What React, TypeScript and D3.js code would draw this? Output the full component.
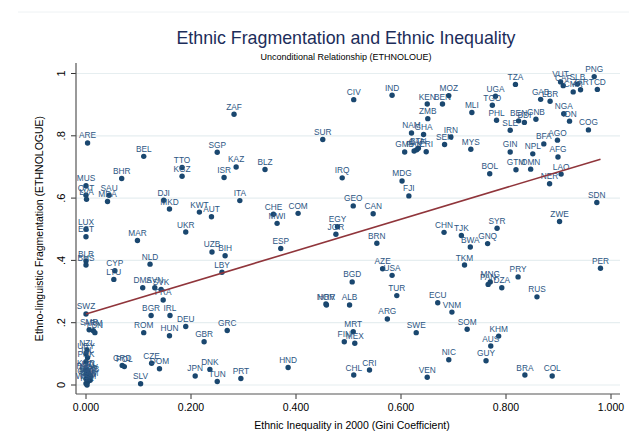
import React from "react";
import * as d3 from "d3";

const codes = [
  "ZAF","ARE","BEL","SGP","KAZ","TTO","KGZ","ISR","BHR","MUS","QAT","LVA","SAU","MDA","DJI","MKD","KWT","AUT","ITA","BLZ",
  "LUX","EST","UKR","MAR","UZB","BIH","LBY","BLR","BHS","NLD","CYP","LTU","DMA","SVN","SVK","FRA","SWZ","BGR","IRL","DEU",
  "GRC","ROM","HUN","GBR","SMR","ARM","LBN","NZL","URY","ISL","PRK","KOR","HTI","RWA","MDV","LSO","MLT","BRB","CUB","LCA",
  "JAM","TON","WSM","KIR","GRD","POL","CZE","DOM","SLV","JPN","DNK","TUN","PRT",
  "CIV","IND","KEN","BEN","ZMB","SUR","NAM","GHA","GMB","PAK","CAF","BTN","ERI","IRQ","MDG","FJI","GEO","CAN","CHE","MWI","COM",
  "EGY","JOR","MOZ","TZA","UGA","TGO","MLI","PHL","SLE","BEN","BDI","GNB","GAB","LBR","NGA","IDN","COG","AGO","BFA","NPL",
  "AFG","GIN","GTM","OMN","LAO","NER","SDN","ZWE","SYR","BOL","MYS","SEN","IRN","PNG","TCD","VUT","CAF","SLB","CMR","ZAR",
  "ESP","BRN","CHN","AZE","USA","BGD","TUR","NOR","HRV","ALB","ARG","ECU","MRT","FIN","MEX","SWE","HND","CHL","CRI","VEN","NIC",
  "TJK","BWA","GNQ","TKM","PER","MNG","PAN","DZA","PRY","RUS","VNM","SOM","KHM","AUS","GUY","BRA","COL"
];

// Ethnic inequality (Gini) — x
const gini = [
  0.282,0.003,0.110,0.250,0.286,0.183,0.183,0.263,0.068,0.000,0.000,0.001,0.044,0.041,0.148,0.159,0.216,0.239,0.293,0.341,
  0.000,0.000,0.190,0.098,0.240,0.265,0.259,0.000,0.000,0.122,0.055,0.053,0.108,0.131,0.143,0.147,0.000,0.124,0.160,0.190,
  0.269,0.110,0.159,0.225,0.006,0.014,0.017,0.002,0.000,0.003,0.000,0.000,0.004,0.000,0.005,0.006,0.002,0.009,0.000,0.004,
  0.008,0.003,0.000,0.002,0.069,0.073,0.125,0.140,0.104,0.208,0.236,0.250,0.295,
  0.510,0.583,0.650,0.679,0.651,0.451,0.620,0.643,0.607,0.625,0.630,0.633,0.648,0.488,0.602,0.615,0.509,0.547,0.357,0.364,0.404,
  0.479,0.476,0.691,0.818,0.780,0.774,0.735,0.782,0.808,0.824,0.835,0.857,0.866,0.884,0.910,0.921,0.957,0.898,0.872,0.851,
  0.899,0.808,0.819,0.847,0.905,0.883,0.973,0.902,0.783,0.769,0.733,0.683,0.695,0.968,0.974,0.904,0.909,0.936,0.928,0.942,
  0.371,0.554,0.682,0.565,0.583,0.507,0.592,0.457,0.458,0.502,0.574,0.670,0.509,0.492,0.512,0.629,0.385,0.510,0.540,0.650,0.691,
  0.715,0.732,0.765,0.721,0.980,0.770,0.766,0.792,0.823,0.859,0.697,0.726,0.786,0.771,0.762,0.836,0.888
];

// Ethno-linguistic fragmentation — y
const frag = [
  0.869,0.777,0.734,0.747,0.700,0.698,0.670,0.666,0.663,0.640,0.609,0.596,0.609,0.589,0.593,0.565,0.555,0.540,0.592,0.692,
  0.500,0.476,0.491,0.464,0.427,0.415,0.362,0.398,0.385,0.388,0.367,0.339,0.312,0.312,0.307,0.273,0.228,0.223,0.223,0.188,
  0.175,0.168,0.158,0.139,0.177,0.174,0.168,0.112,0.100,0.088,0.075,0.048,0.042,0.036,0.033,0.030,0.025,0.028,0.020,0.018,
  0.015,0.010,0.005,0.000,0.063,0.059,0.070,0.052,0.004,0.029,0.050,0.011,0.021,
  0.916,0.930,0.902,0.902,0.855,0.788,0.809,0.804,0.748,0.751,0.755,0.760,0.749,0.665,0.655,0.607,0.575,0.550,0.548,0.519,0.551,
  0.508,0.484,0.929,0.965,0.927,0.898,0.875,0.850,0.818,0.848,0.843,0.853,0.917,0.911,0.871,0.847,0.819,0.786,0.774,0.742,
  0.732,0.748,0.691,0.693,0.677,0.646,0.586,0.525,0.503,0.678,0.757,0.772,0.796,0.990,0.949,0.973,0.961,0.966,0.941,0.948,
  0.438,0.455,0.490,0.373,0.352,0.331,0.287,0.260,0.257,0.257,0.212,0.264,0.171,0.139,0.134,0.168,0.056,0.032,0.048,0.025,0.081,
  0.480,0.443,0.454,0.385,0.375,0.331,0.323,0.312,0.347,0.283,0.234,0.179,0.157,0.125,0.078,0.032,0.029
];

// Fitted line (OLS)
const fitIntercept = 0.228;
const fitSlope = 0.507;

const xTicks = [0, 0.2, 0.4, 0.6, 0.8, 1.0];
const yTicks = [0, 0.2, 0.4, 0.6, 0.8, 1.0];
const yTickLabels = ["0", ".2", ".4", ".6", ".8", "1"];

const title = "Ethnic Fragmentation and Ethnic Inequality";
const subtitle = "Unconditional Relationship (ETHNOLOUE)";
const xTitle = "Ethnic Inequality in 2000 (Gini Coefficient)";
const yTitle = "Ethno-linguistic Fragmentation (ETHNOLOGUE)";

const FONT = "'Liberation Sans', Arial, Helvetica, sans-serif";
const NAVY = "#1a476f";

export default function App() {
  const W = 629, H = 444;
  const plotLeft = 76, plotRight = 620, plotTop = 63, plotBottom = 394;
  const x = d3.scaleLinear().domain([0, 1]).range([86, 611]);
  const y = d3.scaleLinear().domain([0, 1]).range([385, 73.5]);

  const points = codes.map((c, i) => ({ c, x: gini[i], y: frag[i] }));
  const [xmin, xmax] = d3.extent(gini) as [number, number];
  const fitData: [number, number][] = [
    [xmin, fitIntercept + fitSlope * xmin],
    [xmax, fitIntercept + fitSlope * xmax],
  ];
  const line = d3.line<[number, number]>().x(d => x(d[0])).y(d => y(d[1]));

  return (
    <svg width={W} height={H} style={{ position: "absolute", left: 0, top: 0, background: "#fff" }}
      fontFamily={FONT}>
      <line x1={18} x2={W} y1={12} y2={12} stroke="#eef2f4" strokeWidth={1} />
      <text x={346} y={44} textAnchor="middle" fontSize={17.8} fill="#1c2d5a">{title}</text>
      <text x={346} y={60} textAnchor="middle" fontSize={9} fill="#000">{subtitle}</text>

      {yTicks.map((t, i) => (
        <g key={"yt" + i}>
          <line x1={plotLeft} x2={plotRight} y1={y(t)} y2={y(t)} stroke="#e6eef0" strokeWidth={1.2} />
          <line x1={plotLeft - 5} x2={plotLeft} y1={y(t)} y2={y(t)} stroke="#333" strokeWidth={1} />
          <text transform={`translate(${plotLeft - 11},${y(t)}) rotate(-90)`} textAnchor="middle"
            fontSize={11} fill="#000">{yTickLabels[i]}</text>
        </g>
      ))}
      {xTicks.map((t, i) => (
        <g key={"xt" + i}>
          <line x1={x(t)} x2={x(t)} y1={plotBottom} y2={plotBottom + 5} stroke="#333" strokeWidth={1} />
          <text x={x(t)} y={plotBottom + 17} textAnchor="middle" fontSize={10.5} fill="#000">
            {d3.format(".3f")(t)}
          </text>
        </g>
      ))}
      <line x1={plotLeft} x2={plotLeft} y1={plotTop} y2={plotBottom} stroke="#555" strokeWidth={1.2} />
      <line x1={plotLeft} x2={plotRight} y1={plotBottom} y2={plotBottom} stroke="#555" strokeWidth={1.2} />
      <text x={(plotLeft + plotRight) / 2 + 4} y={429} textAnchor="middle" fontSize={10.5} fill="#000">{xTitle}</text>
      <text transform={`translate(43,${(plotTop + plotBottom) / 2}) rotate(-90)`} textAnchor="middle"
        fontSize={10.5} fill="#000">{yTitle}</text>

      {points.map((p, i) => (
        <g key={"p" + i}>
          <circle cx={x(p.x)} cy={y(p.y)} r={2.7} fill={NAVY} />
          <text x={x(p.x)} y={y(p.y) - 4.5} textAnchor="middle" fontSize={8.3} fill="#2c5683">{p.c}</text>
        </g>
      ))}
      <path d={line(fitData) || ""} fill="none" stroke="#90353b" strokeWidth={1.6} />
    </svg>
  );
}
